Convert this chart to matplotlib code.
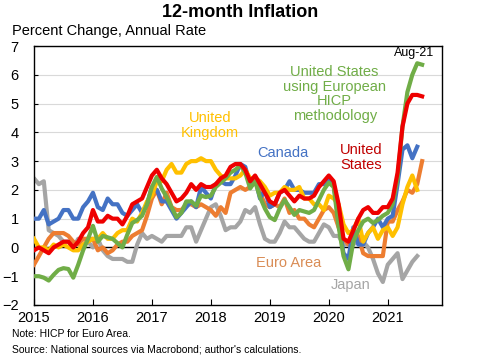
import matplotlib
matplotlib.use("Agg")
import matplotlib.pyplot as plt
import numpy as np

plt.rcParams["font.family"] = ["Liberation Sans", "DejaVu Sans"]

# 12-month inflation, monthly from Jan 2015
us = [-0.1, 0.0, -0.1, -0.2, 0.0, 0.1, 0.2, 0.2, 0.0, 0.2, 0.5, 0.7,
      1.3, 0.9, 0.9, 1.1, 1.0, 1.0, 0.8, 1.1, 1.5, 1.6, 1.7, 2.1,
      2.5, 2.7, 2.4, 2.2, 1.9, 1.6, 1.7, 1.9, 2.2, 2.0, 2.2, 2.1,
      2.1, 2.2, 2.4, 2.5, 2.8, 2.9, 2.9, 2.7, 2.3, 2.5, 2.2, 1.9,
      1.6, 1.5, 1.9, 2.0, 1.8, 1.6, 1.8, 1.7, 1.7, 1.8, 2.1, 2.3,
      2.5, 2.3, 1.5, 0.3, 0.2, 0.6, 1.0, 1.3, 1.4, 1.2, 1.2, 1.4,
      1.4, 1.7, 2.6, 4.2, 5.0, 5.3, 5.3, 5.25]
us_hicp = [-1.0, -1.0, -1.05, -1.15, -0.95, -0.78, -0.72, -0.75, -1.05, -0.6, -0.1, 0.3,
           0.75, 0.2, 0.4, 0.35, 0.3, 0.15, 0.0, 0.45, 0.85, 0.95, 1.1, 1.5,
           2.1, 2.45, 2.05, 1.75, 1.4, 1.05, 1.2, 1.6, 1.6, 1.45, 1.8, 1.75,
           1.8, 2.1, 2.25, 2.4, 2.6, 2.7, 2.85, 2.6, 2.05, 2.3, 1.75, 1.35,
           1.05, 0.95, 1.35, 1.65, 1.4, 1.13, 1.3, 1.25, 1.2, 1.3, 1.65, 2.0,
           2.25, 2.1, 0.72, -0.3, -0.76, 0.2, 0.6, 0.9, 1.0, 0.85, 0.95, 1.1,
           1.2, 1.5, 2.4, 4.2, 5.4, 6.0, 6.4, 6.35]
canada = [1.0, 1.0, 1.3, 0.8, 0.9, 1.0, 1.3, 1.3, 1.0, 1.0, 1.4, 1.6,
          1.9, 1.4, 1.3, 1.7, 1.5, 1.5, 1.2, 1.1, 1.3, 1.5, 1.2, 1.5,
          2.1, 2.0, 1.6, 1.6, 1.3, 1.0, 1.2, 1.4, 1.6, 1.4, 2.1, 1.9,
          1.7, 2.2, 2.3, 2.2, 2.2, 2.5, 2.9, 2.8, 2.2, 2.4, 1.7, 2.0,
          1.4, 1.5, 1.9, 2.0, 2.3, 2.0, 2.0, 1.9, 1.9, 1.9, 2.2, 2.2,
          2.4, 2.2, 0.9, -0.2, -0.4, 0.7, 0.1, 0.1, 0.5, 0.7, 1.0, 0.7,
          1.0, 1.1, 2.2, 3.4, 3.55, 3.1, 3.5]
uk = [0.3, 0.0, 0.0, -0.1, 0.1, 0.0, 0.1, 0.0, -0.1, -0.1, 0.1, 0.2,
      0.3, 0.3, 0.5, 0.3, 0.3, 0.5, 0.6, 0.6, 1.0, 0.9, 1.2, 1.6,
      1.8, 2.3, 2.3, 2.7, 2.9, 2.6, 2.6, 2.9, 3.0, 3.0, 3.1, 3.0,
      3.0, 2.7, 2.5, 2.4, 2.4, 2.4, 2.5, 2.7, 2.4, 2.4, 2.3, 2.1,
      1.8, 1.9, 1.9, 2.1, 2.0, 2.0, 2.1, 1.7, 1.7, 1.5, 1.5, 1.3,
      1.8, 1.7, 1.5, 0.8, 0.5, 0.6, 1.0, 0.2, 0.5, 0.7, 0.3, 0.6,
      0.7, 0.4, 0.7, 1.5, 2.1, 2.5, 2.0]
euro = [-0.6, -0.3, 0.0, 0.3, 0.5, 0.5, 0.5, 0.4, 0.2, 0.1, 0.3, 0.3,
        0.3, -0.1, 0.0, -0.2, -0.1, 0.1, 0.2, 0.2, 0.4, 0.5, 0.6, 1.1,
        1.7, 2.0, 1.5, 1.9, 1.4, 1.3, 1.3, 1.5, 1.5, 1.4, 1.5, 1.4,
        1.3, 1.1, 1.4, 1.2, 1.9, 2.0, 2.1, 2.0, 2.1, 2.3, 1.9, 1.5,
        1.4, 1.5, 1.4, 1.7, 1.2, 1.3, 1.0, 1.0, 0.8, 0.7, 1.0, 1.3,
        1.4, 1.2, 0.7, 0.3, 0.1, 0.3, 0.4, -0.2, -0.3, -0.3, -0.3, -0.3,
        0.9, 0.9, 1.3, 1.6, 2.0, 1.9, 2.2, 3.0]
japan = [2.4, 2.2, 2.3, 0.6, 0.5, 0.4, 0.2, 0.2, 0.0, 0.3, 0.3, 0.2,
         0.0, 0.3, -0.1, -0.3, -0.4, -0.4, -0.4, -0.5, -0.5, 0.1, 0.5, 0.3,
         0.4, 0.3, 0.2, 0.4, 0.4, 0.4, 0.4, 0.7, 0.7, 0.2, 0.6, 1.0,
         1.4, 1.5, 1.1, 0.6, 0.7, 0.7, 0.9, 1.3, 1.2, 1.4, 0.8, 0.3,
         0.2, 0.2, 0.5, 0.9, 0.7, 0.7, 0.5, 0.3, 0.2, 0.2, 0.5, 0.8,
         0.7, 0.4, 0.4, 0.1, 0.1, 0.1, 0.3, 0.2, 0.0, -0.4, -0.9, -1.2,
         -0.6, -0.4, -0.2, -1.1, -0.8, -0.5, -0.3]

years = [2015, 2016, 2017, 2018, 2019, 2020, 2021]
y_ticks = [-2, -1, 0, 1, 2, 3, 4, 5, 6, 7]


def _t(serie):
    return 2015 + np.arange(len(serie)) / 12


fig = plt.figure(figsize=(4.8, 3.6), dpi=100)
ax = fig.add_axes([0.0708, 0.1528, 0.85, 0.7194])

for yv in y_ticks:
    ax.axhline(yv, color="#d9d9d9", lw=0.8, zorder=0)
ax.axhline(0, color="black", lw=1.0, zorder=1)

lw = 3.0
ax.plot(_t(japan), japan, color="#a5a5a5", lw=lw, solid_joinstyle="round", zorder=2)
ax.plot(_t(euro), euro, color="#ed7d31", lw=lw, solid_joinstyle="round", zorder=3)
ax.plot(_t(canada), canada, color="#4472c4", lw=lw, solid_joinstyle="round", zorder=4)
ax.plot(_t(uk), uk, color="#ffc000", lw=lw, solid_joinstyle="round", zorder=5)
ax.plot(_t(us_hicp), us_hicp, color="#70ad47", lw=lw, solid_joinstyle="round", zorder=6)
ax.plot(_t(us), us, color="#ee0000", lw=lw, solid_joinstyle="round", zorder=7)

ax.set_xlim(2015, 2021.92)
ax.set_ylim(-2, 7)
ax.set_xticks(years)
ax.set_xticklabels([str(y) for y in years])
ax.set_yticks(y_ticks)
ax.tick_params(axis="both", direction="in", labelsize=10.5, length=4, width=0.8)
ax.tick_params(axis="y", pad=11, length=3)
ax.tick_params(axis="x", pad=4)
for s in ax.spines.values():
    s.set_linewidth(1.0)

# etiquetas de series
ax.text(2017.99, 4.23, "United\nKingdom", color="#ffc000", fontsize=10.5,
        ha="center", va="center", linespacing=1.1)
ax.text(2019.22, 3.28, "Canada", color="#4472c4", fontsize=10.5,
        ha="center", va="center")
ax.text(2020.1, 5.33, "United States\nusing European\nHICP\nmethodology",
        color="#70ad47", fontsize=10.5, ha="center", va="center", linespacing=1.05)
ax.text(2020.55, 3.14, "United\nStates", color="#c00000", fontsize=10.5,
        ha="center", va="center", linespacing=1.1)
ax.text(2019.32, -0.53, "Euro Area", color="#d98c55", fontsize=10.5,
        ha="center", va="center")
ax.text(2020.37, -1.31, "Japan", color="#a5a5a5", fontsize=10.5,
        ha="center", va="center")
ax.text(2021.44, 6.75, "Aug-21", color="black", fontsize=9,
        ha="center", va="center")

fig.text(0.5, 0.965, "12-month Inflation", fontsize=13, fontweight="bold",
         ha="center", va="center")
fig.text(0.026, 0.914, "Percent Change, Annual Rate", fontsize=10.5,
         ha="left", va="center")
fig.text(0.025, 0.072, "Note: HICP for Euro Area.", fontsize=7.5,
         ha="left", va="center")
fig.text(0.025, 0.028, "Source: National sources via Macrobond; author's calculations.",
         fontsize=7.5, ha="left", va="center")

fig.savefig("out.png", dpi=100)
